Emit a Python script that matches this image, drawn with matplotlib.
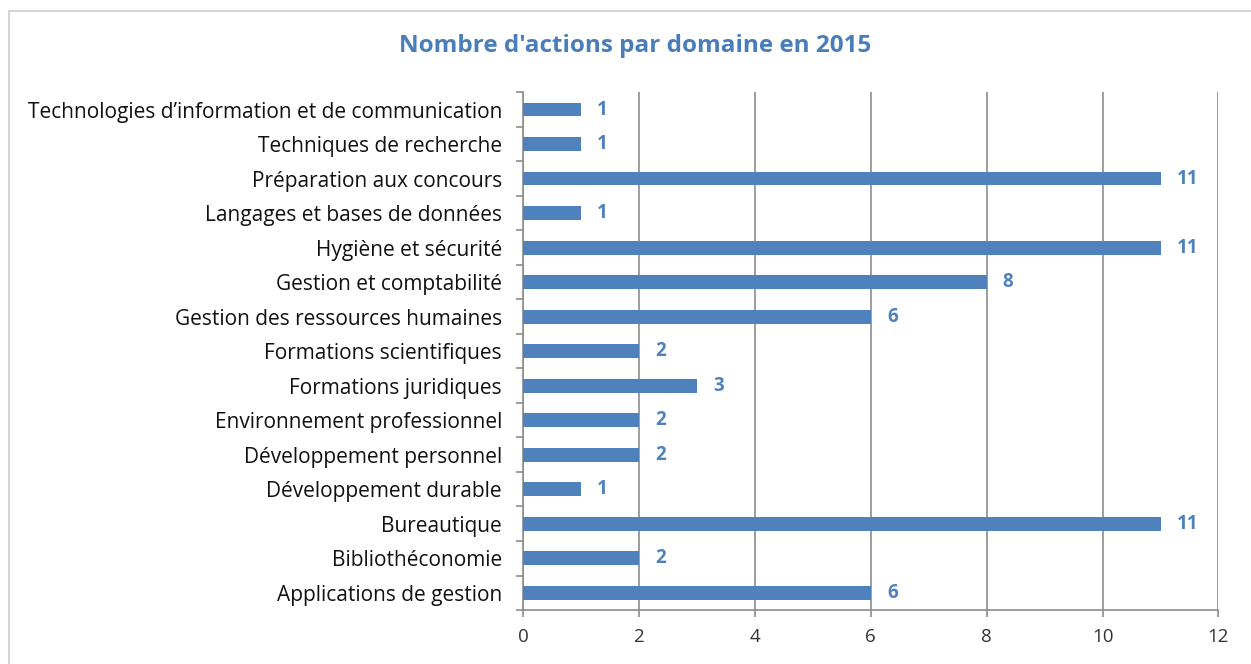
import matplotlib.pyplot as plt
from matplotlib.patches import Rectangle

plt.rcParams['font.family'] = ['Open Sans', 'DejaVu Sans']

domaines = ['Applications de gestion', 'Bibliothéconomie', 'Bureautique',
            'Développement durable', 'Développement personnel',
            'Environnement professionnel', 'Formations juridiques',
            'Formations scientifiques', 'Gestion des ressources humaines',
            'Gestion et comptabilité', 'Hygiène et sécurité',
            'Langages et bases de données', 'Préparation aux concours',
            'Techniques de recherche',
            'Technologies d\u2019information et de communication']
actions = [6, 2, 11, 1, 2, 2, 3, 2, 6, 8, 11, 1, 11, 1, 1]
xticks = [0, 2, 4, 6, 8, 10, 12]

blue = '#4f81bd'
grid = '#8c8c8c'

fig = plt.figure(figsize=(12.51, 6.64), dpi=100)
ax = fig.add_axes([0.418, 0.0813, 0.556, 0.7797])

ypos = range(len(domaines))
ax.barh(ypos, actions, height=0.4, color=blue, zorder=3)
for y, v in zip(ypos, actions):
    ax.text(v + 0.28, y, str(v), va='center', ha='left', color=blue,
            fontsize=13.5, fontweight='bold')

ax.set_xlim(0, 12)
ax.set_ylim(-0.5, len(domaines) - 0.5)
ax.set_xticks(xticks)
ax.set_xticklabels([str(t) for t in xticks], fontsize=13.5, color='#333333')
ax.set_yticks(ypos)
ax.set_yticklabels(domaines, fontsize=15, color='#111111')
ax.set_yticks([i - 0.5 for i in range(len(domaines) + 1)], minor=True)
ax.tick_params(axis='y', which='major', length=0, pad=15)
ax.tick_params(axis='y', which='minor', length=5, color=grid, width=1.2)
ax.tick_params(axis='x', length=5, color=grid, width=1.2, pad=8)
ax.grid(axis='x', color=grid, linewidth=1.2, zorder=0)
for s in ['top', 'right']:
    ax.spines[s].set_visible(False)
for s in ['left', 'bottom']:
    ax.spines[s].set_color(grid)
    ax.spines[s].set_linewidth(1.2)

fig.text(0.508, 0.93, "Nombre d'actions par domaine en 2015", ha='center',
         va='center', fontsize=17.5, fontweight='bold', color='#4a7ebb')

fig.patches.append(Rectangle((9 / 1251, -0.01), 1.0, 1 - 11 / 664 + 0.01,
                             transform=fig.transFigure, fill=False,
                             edgecolor='#cccccc', linewidth=1.2))

fig.savefig('out.png', dpi=100)
